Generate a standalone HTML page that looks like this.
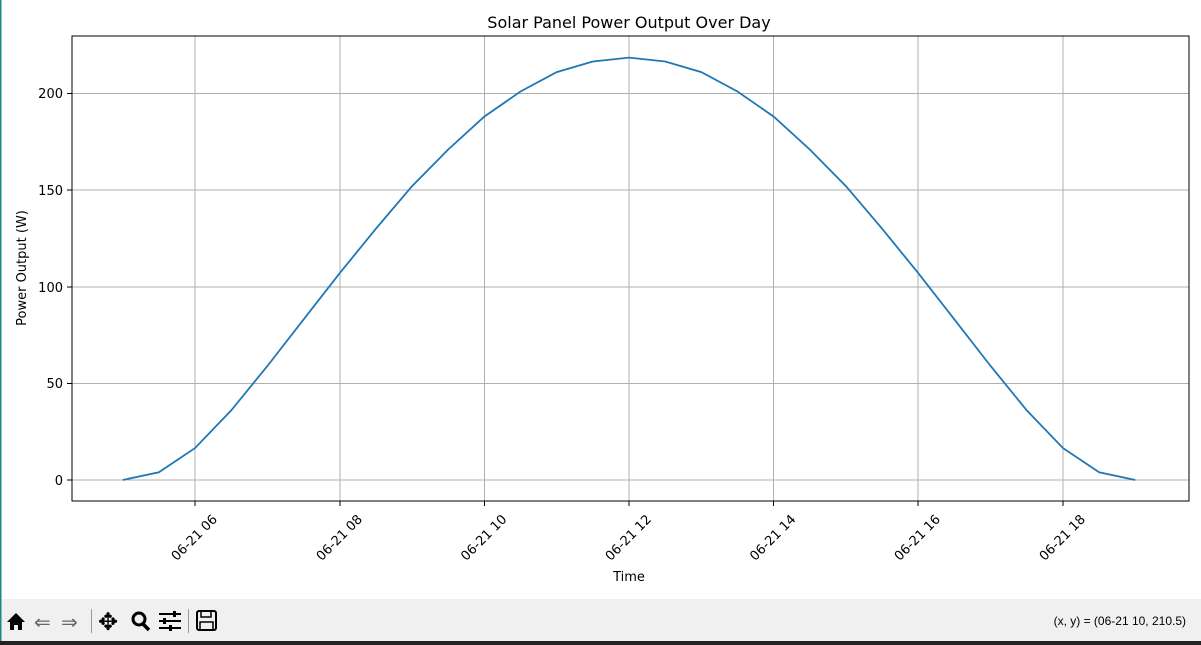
<!DOCTYPE html>
<html><head><meta charset="utf-8"><style>
html,body{margin:0;padding:0;background:#fff;}
svg{display:block;font-family:"DejaVu Sans","Liberation Sans",sans-serif;}
</style></head><body>
<svg width="1201" height="645" viewBox="0 0 1201 645" xmlns="http://www.w3.org/2000/svg">
<rect width="1201" height="645" fill="#fff"/>
<rect x="0" y="0" width="1.5" height="645" fill="#1a8a8a"/>
<text x="629" y="28" font-size="16" text-anchor="middle" fill="#000">Solar Panel Power Output Over Day</text>
<g stroke="#b0b0b0" stroke-width="1">
<line x1="195" y1="36" x2="195" y2="501"/><line x1="340" y1="36" x2="340" y2="501"/>
<line x1="484.5" y1="36" x2="484.5" y2="501"/><line x1="629" y1="36" x2="629" y2="501"/>
<line x1="773.5" y1="36" x2="773.5" y2="501"/><line x1="918" y1="36" x2="918" y2="501"/>
<line x1="1063" y1="36" x2="1063" y2="501"/>
<line x1="72" y1="480" x2="1189" y2="480"/><line x1="72" y1="383.5" x2="1189" y2="383.5"/>
<line x1="72" y1="287" x2="1189" y2="287"/><line x1="72" y1="190" x2="1189" y2="190"/>
<line x1="72" y1="93.5" x2="1189" y2="93.5"/>
</g>
<polyline fill="none" stroke="#1f77b4" stroke-width="1.8" points="122.7,480 158.9,472.3 195,448.1 231.2,410.4 267.4,366 303.5,319.6 339.7,273.2 375.9,228.7 412,186.2 448.2,149.5 484.3,116.6 520.5,91.5 556.7,72.1 592.8,61.5 629,57.6 665.2,61.5 701.3,72.1 737.5,91.5 773.7,116.6 809.8,149.5 846,186.2 882.1,228.7 918.3,273.2 954.5,319.6 990.6,366 1026.8,410.4 1063,448.1 1099.1,472.3 1135.3,480"/>
<rect x="72" y="36" width="1117" height="465" fill="none" stroke="#000" stroke-width="1"/>
<g stroke="#000" stroke-width="1">
<line x1="195" y1="501" x2="195" y2="506"/><line x1="340" y1="501" x2="340" y2="506"/>
<line x1="484.5" y1="501" x2="484.5" y2="506"/><line x1="629" y1="501" x2="629" y2="506"/>
<line x1="773.5" y1="501" x2="773.5" y2="506"/><line x1="918" y1="501" x2="918" y2="506"/>
<line x1="1063" y1="501" x2="1063" y2="506"/>
<line x1="67" y1="480" x2="72" y2="480"/><line x1="67" y1="383.5" x2="72" y2="383.5"/>
<line x1="67" y1="287" x2="72" y2="287"/><line x1="67" y1="190" x2="72" y2="190"/>
<line x1="67" y1="93.5" x2="72" y2="93.5"/>
</g>
<g font-size="13" text-anchor="end" fill="#000">
<text x="63" y="485">0</text><text x="63" y="388">50</text><text x="63" y="292">100</text>
<text x="63" y="195">150</text><text x="63" y="98">200</text>
</g>
<g font-size="13" text-anchor="end" fill="#000">
<text transform="translate(218,520) rotate(-45)">06-21 06</text>
<text transform="translate(363,520) rotate(-45)">06-21 08</text>
<text transform="translate(507.5,520) rotate(-45)">06-21 10</text>
<text transform="translate(652,520) rotate(-45)">06-21 12</text>
<text transform="translate(796.5,520) rotate(-45)">06-21 14</text>
<text transform="translate(941,520) rotate(-45)">06-21 16</text>
<text transform="translate(1086,520) rotate(-45)">06-21 18</text>
</g>
<text x="629" y="581" font-size="13" text-anchor="middle">Time</text>
<text transform="translate(26,268) rotate(-90)" font-size="13" text-anchor="middle">Power Output (W)</text>
<rect x="1.5" y="599" width="1199.5" height="42" fill="#f0f0f0"/>
<rect x="0" y="641" width="1201" height="4" fill="#222"/>
<g fill="#000" font-size="22">
<path d="M7 622 L16 613 L25 622 L22 622 L22 630 L18 630 L18 625 L14 625 L14 630 L10 630 L10 622 Z"/>
<text x="34" y="629" font-size="20" fill="#666">⇐</text>
<text x="61" y="629" font-size="20" fill="#666">⇒</text>
<rect x="91" y="609" width="1" height="24" fill="#999"/>
<text x="98" y="630" font-size="24">✥</text>
<circle cx="139" cy="619" r="6" fill="none" stroke="#000" stroke-width="3"/>
<line x1="143" y1="624" x2="149" y2="630" stroke="#000" stroke-width="3.5"/>
<g stroke="#000" stroke-width="2"><line x1="159" y1="614" x2="181" y2="614"/><line x1="159" y1="621" x2="181" y2="621"/><line x1="159" y1="628" x2="181" y2="628"/></g>
<rect x="173" y="611" width="3" height="6"/><rect x="163" y="618" width="3" height="6"/><rect x="169" y="625" width="3" height="6"/>
<rect x="188" y="609" width="1" height="24" fill="#999"/>
<rect x="197" y="611" width="19" height="19" rx="2" fill="none" stroke="#000" stroke-width="2"/>
<rect x="201" y="611" width="10" height="6" fill="none" stroke="#000" stroke-width="1.5"/>
<rect x="200" y="622" width="13" height="8" fill="none" stroke="#000" stroke-width="1.5"/>
</g>
<text x="1186" y="625" font-size="12" text-anchor="end" font-family="Liberation Sans, sans-serif">(x, y) = (06-21 10, 210.5)</text>
</svg>
</body></html>
